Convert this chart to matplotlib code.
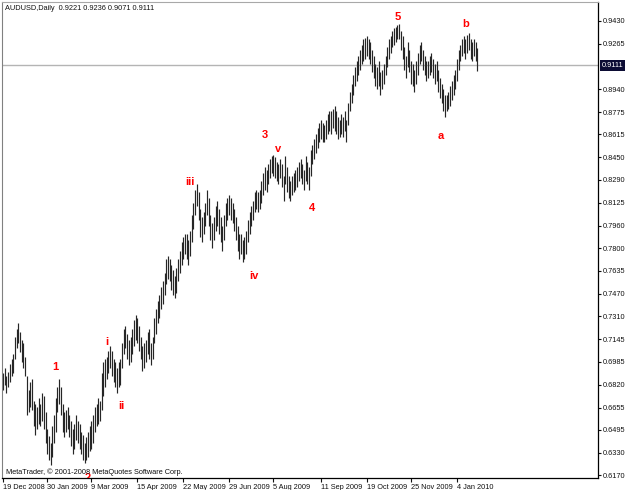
import matplotlib
matplotlib.use("Agg")
import matplotlib.pyplot as plt
import matplotlib.transforms as mtransforms

# ---------------- data ----------------
title_text = "AUDUSD,Daily  0.9221 0.9236 0.9071 0.9111"
copyright_text = "MetaTrader, \u00a9 2001-2008 MetaQuotes Software Corp."
last_price = 0.9111

bar_lows = [
    0.678, 0.682, 0.676, 0.680, 0.684, 0.688, 0.690, 0.700, 0.708, 0.712,
    0.705, 0.698, 0.694, 0.688, 0.660, 0.662, 0.666, 0.664, 0.652, 0.646,
    0.650, 0.654, 0.652, 0.656, 0.650, 0.640, 0.632, 0.628, 0.624, 0.630,
    0.640, 0.648, 0.662, 0.668, 0.660, 0.648, 0.644, 0.648, 0.650, 0.644,
    0.638, 0.632, 0.636, 0.642, 0.640, 0.636, 0.632, 0.628, 0.626, 0.628,
    0.630, 0.634, 0.636, 0.640, 0.648, 0.652, 0.654, 0.656, 0.664, 0.674,
    0.680, 0.686, 0.690, 0.694, 0.688, 0.684, 0.680, 0.676, 0.680, 0.682,
    0.694, 0.704, 0.708, 0.700, 0.696, 0.698, 0.704, 0.710, 0.714, 0.712,
    0.706, 0.700, 0.692, 0.694, 0.698, 0.704, 0.700, 0.696, 0.700, 0.712,
    0.718, 0.726, 0.730, 0.736, 0.740, 0.746, 0.754, 0.758, 0.756, 0.750,
    0.746, 0.744, 0.748, 0.756, 0.762, 0.768, 0.772, 0.776, 0.772, 0.768,
    0.774, 0.784, 0.794, 0.804, 0.810, 0.800, 0.788, 0.784, 0.790, 0.796,
    0.804, 0.796, 0.786, 0.780, 0.786, 0.792, 0.796, 0.790, 0.784, 0.778,
    0.786, 0.796, 0.800, 0.804, 0.800, 0.798, 0.792, 0.786, 0.778, 0.772,
    0.776, 0.770, 0.772, 0.776, 0.784, 0.790, 0.796, 0.800, 0.806, 0.808,
    0.806, 0.808, 0.812, 0.818, 0.822, 0.820, 0.826, 0.830, 0.834, 0.832,
    0.830, 0.828, 0.826, 0.830, 0.824, 0.814, 0.826, 0.820, 0.816, 0.814,
    0.818, 0.820, 0.822, 0.824, 0.828, 0.830, 0.826, 0.822, 0.828, 0.826,
    0.822, 0.832, 0.840, 0.844, 0.848, 0.852, 0.856, 0.858, 0.856, 0.856,
    0.858, 0.862, 0.864, 0.862, 0.866, 0.864, 0.862, 0.858, 0.860, 0.862,
    0.860, 0.864, 0.856, 0.868, 0.878, 0.884, 0.890, 0.896, 0.900, 0.904,
    0.908, 0.912, 0.914, 0.916, 0.918, 0.916, 0.912, 0.906, 0.902, 0.896,
    0.894, 0.896, 0.890, 0.894, 0.898, 0.904, 0.910, 0.916, 0.920, 0.924,
    0.926, 0.928, 0.930, 0.930, 0.922, 0.916, 0.908, 0.902, 0.910, 0.906,
    0.898, 0.896, 0.892, 0.898, 0.904, 0.912, 0.914, 0.908, 0.904, 0.900,
    0.902, 0.904, 0.906, 0.902, 0.898, 0.900, 0.892, 0.888, 0.884, 0.878,
    0.874, 0.878, 0.880, 0.882, 0.886, 0.890, 0.894, 0.900, 0.908, 0.914,
    0.918, 0.920, 0.916, 0.920, 0.922, 0.916, 0.914, 0.918, 0.914, 0.9071,
]

bar_highs = [
    0.690, 0.694, 0.688, 0.691, 0.697, 0.700, 0.704, 0.716, 0.722, 0.726,
    0.720, 0.714, 0.712, 0.702, 0.688, 0.678, 0.684, 0.686, 0.670, 0.668,
    0.666, 0.672, 0.668, 0.676, 0.674, 0.662, 0.650, 0.645, 0.640, 0.652,
    0.660, 0.672, 0.680, 0.686, 0.680, 0.668, 0.662, 0.664, 0.666, 0.660,
    0.656, 0.650, 0.654, 0.660, 0.656, 0.654, 0.648, 0.646, 0.640, 0.644,
    0.648, 0.652, 0.656, 0.660, 0.666, 0.668, 0.672, 0.670, 0.690, 0.698,
    0.700, 0.702, 0.706, 0.710, 0.706, 0.700, 0.698, 0.694, 0.698, 0.700,
    0.712, 0.722, 0.724, 0.718, 0.714, 0.716, 0.722, 0.728, 0.732, 0.730,
    0.724, 0.716, 0.710, 0.712, 0.714, 0.720, 0.722, 0.712, 0.716, 0.730,
    0.736, 0.742, 0.746, 0.752, 0.756, 0.762, 0.772, 0.774, 0.772, 0.768,
    0.764, 0.760, 0.766, 0.772, 0.778, 0.784, 0.788, 0.790, 0.790, 0.786,
    0.792, 0.804, 0.812, 0.822, 0.826, 0.820, 0.808, 0.802, 0.806, 0.812,
    0.822, 0.816, 0.804, 0.798, 0.802, 0.810, 0.814, 0.808, 0.802, 0.796,
    0.804, 0.812, 0.816, 0.818, 0.816, 0.812, 0.808, 0.802, 0.796, 0.790,
    0.790, 0.786, 0.788, 0.792, 0.800, 0.806, 0.810, 0.814, 0.820, 0.822,
    0.820, 0.822, 0.828, 0.834, 0.838, 0.836, 0.840, 0.844, 0.846, 0.847,
    0.845, 0.842, 0.840, 0.844, 0.840, 0.832, 0.846, 0.838, 0.832, 0.828,
    0.832, 0.834, 0.836, 0.838, 0.842, 0.844, 0.840, 0.836, 0.846, 0.842,
    0.838, 0.850, 0.854, 0.858, 0.862, 0.866, 0.870, 0.872, 0.870, 0.868,
    0.872, 0.876, 0.878, 0.878, 0.880, 0.882, 0.878, 0.874, 0.872, 0.876,
    0.874, 0.878, 0.872, 0.884, 0.892, 0.898, 0.904, 0.910, 0.914, 0.918,
    0.922, 0.926, 0.930, 0.931, 0.932, 0.930, 0.928, 0.922, 0.918, 0.912,
    0.910, 0.914, 0.906, 0.908, 0.912, 0.918, 0.924, 0.930, 0.932, 0.936,
    0.938, 0.939, 0.940, 0.941, 0.936, 0.932, 0.924, 0.918, 0.928, 0.922,
    0.914, 0.912, 0.908, 0.914, 0.920, 0.926, 0.928, 0.922, 0.918, 0.914,
    0.914, 0.918, 0.920, 0.916, 0.912, 0.914, 0.908, 0.902, 0.898, 0.894,
    0.890, 0.890, 0.892, 0.896, 0.900, 0.904, 0.908, 0.916, 0.922, 0.926,
    0.930, 0.932, 0.930, 0.933, 0.934, 0.930, 0.928, 0.930, 0.928, 0.9236,
]

price_ticks = [0.9430, 0.9265, 0.8940, 0.8775, 0.8615, 0.8450, 0.8290, 0.8125,
               0.7960, 0.7800, 0.7635, 0.7470, 0.7310, 0.7145, 0.6985, 0.6820,
               0.6655, 0.6495, 0.6330, 0.6170]
price_tick_labels = ["%.4f" % v for v in price_ticks]

date_tick_bars = [0, 26, 52, 79, 106, 133, 159, 187, 214, 240, 267]
date_tick_labels = ["19 Dec 2008", "30 Jan 2009", "9 Mar 2009", "15 Apr 2009",
                    "22 May 2009", "29 Jun 2009", "5 Aug 2009", "11 Sep 2009",
                    "19 Oct 2009", "25 Nov 2009", "4 Jan 2010"]

wave_labels = ["1", "2", "i", "ii", "iii", "iv", "3", "v", "4", "5", "a", "b"]
wave_bar = [30.6, 50.0, 61.2, 69.4, 110.0, 147.6, 154.0, 161.8, 181.8, 232.4, 257.6, 272.4]
wave_price = [0.6946, 0.6152, 0.7125, 0.6666, 0.8274, 0.7599, 0.8611, 0.8511,
              0.8087, 0.9459, 0.8604, 0.9408]

# ---------------- figure ----------------
W, H = 625, 490
fig = plt.figure(figsize=(W / 100, H / 100), dpi=100)
fig.patch.set_facecolor("white")
ax = fig.add_axes([2 / W, 12 / H, 596 / W, 476 / H])
ax.set_facecolor("white")

FONT = "Liberation Sans"
idx = list(range(len(bar_lows)))

ax.axhline(last_price, color="#b4b4b4", lw=1.0, zorder=1)
ax.vlines(idx, bar_lows, bar_highs, color="#262626", linewidth=0.85, zorder=2)

ax.set_xlim(-0.6, 350.0)
ax.set_ylim(0.6149, 0.9566)

# price axis on the right
ax.yaxis.tick_right()
ax.set_yticks(price_ticks)
ax.set_yticklabels(price_tick_labels, fontfamily=FONT, fontsize=5.3, color="#111111")
ax.tick_params(axis="y", direction="out", length=2, width=0.8, pad=1.5, colors="#111111")

# date axis
ax.set_xticks(date_tick_bars)
ax.set_xticklabels(date_tick_labels, fontfamily=FONT, fontsize=5.3, color="#111111", ha="left")
ax.tick_params(axis="x", direction="out", length=3, width=0.8, pad=1.5, colors="#111111")

for s in ["right", "bottom"]:
    ax.spines[s].set_color("#000000")
    ax.spines[s].set_linewidth(0.9)
ax.spines["left"].set_color("#808080")
ax.spines["top"].set_color("#a8a8a8")
ax.spines["left"].set_linewidth(0.8)
ax.spines["top"].set_linewidth(0.8)

# last price box on the right axis
trans = mtransforms.blended_transform_factory(ax.transAxes, ax.transData)
ax.text(1.006, last_price, "%.4f" % last_price, transform=trans, ha="left", va="center",
        fontfamily=FONT, fontsize=5.3, color="white", clip_on=False, zorder=5,
        bbox=dict(boxstyle="square,pad=0.25", facecolor="#0c0c34", edgecolor="none"))

# header / copyright
fig.text(5 / W, 1 - 8 / H, title_text, ha="left", va="center", fontfamily=FONT,
         fontsize=5.3, color="#111111")
ax.text(4 / 596, (478 - 472) / 476, copyright_text, transform=ax.transAxes, ha="left",
        va="center", fontfamily=FONT, fontsize=5.3, color="#111111", zorder=4)

# wave labels
for lab, bx, py in zip(wave_labels, wave_bar, wave_price):
    ax.text(bx, py, lab, ha="center", va="center", fontfamily=FONT, fontweight="bold",
            fontsize=8, color="#ff0000", zorder=3, clip_on=True)

fig.savefig("out.png", dpi=100, facecolor="white")
